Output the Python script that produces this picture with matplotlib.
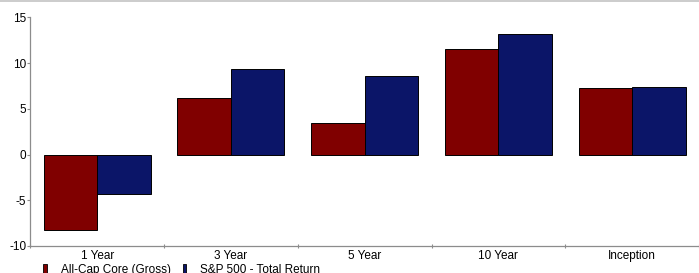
import numpy as np
import matplotlib
matplotlib.use('Agg')
import matplotlib.pyplot as plt
from matplotlib.patches import Patch
from matplotlib.lines import Line2D

plt.rcParams['font.family'] = ['Liberation Sans', 'DejaVu Sans']

Periods = ['1 Year', '3 Year', '5 Year', '10 Year', 'Inception']
AllCap = [-8.2, 6.2, 3.4, 11.55, 7.3]
SP500 = [-4.3, 9.3, 8.55, 13.15, 7.4]
SeriesNames = ['All-Cap Core (Gross)', 'S&P 500 - Total Return']
YTicks = [-10, -5, 0, 5, 10, 15]

Red = '#800000'
Navy = '#0b1568'
Grey = '#8c8c8c'
FS = 8.5

fig = plt.figure(figsize=(6.99, 2.73), dpi=100)
ax = fig.add_axes([30.3/699, 1-246/273, 1-30.3/699, (246-17.3)/273])

x = np.arange(len(Periods))
w = 0.4
ax.bar(x - w/2, AllCap, w, color=Red, edgecolor='black', lw=0.7)
ax.bar(x + w/2, SP500, w, color=Navy, edgecolor='black', lw=0.7)

ax.set_xlim(-0.5, len(Periods) - 0.5)
ax.set_ylim(-10, 15)
ax.set_yticks(YTicks)
ax.set_yticklabels([str(v) for v in YTicks], fontsize=FS)
ax.set_xticks(x)
ax.set_xticklabels(Periods, fontsize=FS)
ax.set_xticks(np.arange(len(Periods) + 1) - 0.5, minor=True)

for s in ('top', 'right'):
    ax.spines[s].set_visible(False)
for s in ('left', 'bottom'):
    ax.spines[s].set_color(Grey)
    ax.spines[s].set_linewidth(0.9)

ax.tick_params(axis='y', length=2, width=0.8, color=Grey, pad=1)
ax.tick_params(axis='x', which='major', length=0, pad=3)
ax.tick_params(axis='x', which='minor', length=2.5, width=0.8,
               color=Grey, direction='inout')

# thin grey border along the top
fig.add_artist(Line2D([0, 1], [0.997, 0.997], color='#c4c4c4', lw=1.2,
                      transform=fig.transFigure))

Handles = [Patch(facecolor=Red, edgecolor='black', lw=0.6),
           Patch(facecolor=Navy, edgecolor='black', lw=0.6)]
fig.legend(Handles, SeriesNames, loc='center left', ncol=2,
           bbox_to_anchor=(43/699, 1-270/273),
           frameon=False, fontsize=FS,
           handlelength=0.3, handleheight=0.9,
           handletextpad=1.2, columnspacing=1.0,
           borderpad=0, borderaxespad=0)

fig.savefig('out.png', dpi=100)
